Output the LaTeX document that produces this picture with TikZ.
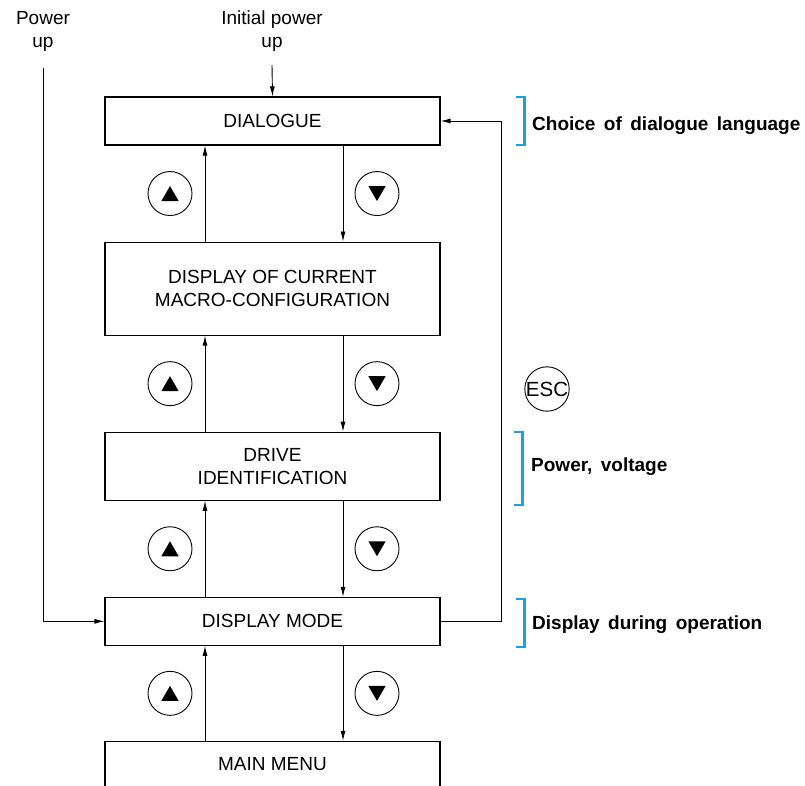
\documentclass[tikz,border=0pt]{standalone}
\usepackage{fontspec}
\setmainfont{Liberation Sans}
\newfontfamily\notefamily[WordSpace=1.6]{Liberation Sans}
\usetikzlibrary{arrows.meta,positioning,shapes.geometric,calc}
\definecolor{noteBlue}{RGB}{27,161,226}

\begin{document}
\begin{tikzpicture}[
  x=1pt, y=-1pt,
  node distance=96pt,
  menu/.style={draw, line width=1.1pt, minimum width=335pt, align=center, inner sep=0pt, font=\fontsize{19}{23}\selectfont},
  arrow/.style={-{Latex[length=10pt,width=5pt]}, line width=0.9pt},
  key/.style={draw, circle, minimum size=44pt, inner sep=0pt, line width=0.9pt, font=\fontsize{20.5}{20.5}\selectfont},
  uptri/.style={regular polygon, regular polygon sides=3, fill=black, minimum size=20pt, inner sep=0pt},
  downtri/.style={uptri, shape border rotate=180},
  bracket/.style={noteBlue, line width=2.4pt},
  note/.style={anchor=base west, inner sep=0pt, font=\notefamily\bfseries\fontsize{19}{23}\selectfont},
  start/.style={align=center, inner sep=0pt, font=\fontsize{19}{23}\selectfont}
]
\useasboundingbox (0,0) rectangle (805,786);

% menu boxes
\node[menu, minimum height=48pt] (dialogue) at (272.5,121) {DIALOGUE};
\node[menu, minimum height=93pt, below=of dialogue] (macro) {DISPLAY OF CURRENT\\MACRO-CONFIGURATION};
\node[menu, minimum height=68pt, below=of macro] (drive) {DRIVE\\IDENTIFICATION};
\node[menu, minimum height=48pt, below=of drive] (display) {DISPLAY MODE};
\node[menu, minimum height=46pt, below=95pt of display] (mainmenu) {MAIN MENU};

% columns of the up / down links and keys
\coordinate (upx) at (205,0);
\coordinate (downx) at (343,0);
\coordinate (upkeyx) at (170,0);
\coordinate (downkeyx) at (377,0);

\foreach \hi/\lo in {dialogue/macro, macro/drive, drive/display, display/mainmenu} {
  \draw[arrow] (\lo.north -| upx) -- (\hi.south -| upx);
  \draw[arrow] (\hi.south -| downx) -- (\lo.north -| downx);
  \node[key] (up-\lo) at ($(\hi.south -| upkeyx)!0.5!(\lo.north -| upkeyx)$) {};
  \node[uptri] at ($(up-\lo)+(0,2.5)$) {};
  \node[key] (down-\lo) at ($(\hi.south -| downkeyx)!0.5!(\lo.north -| downkeyx)$) {};
  \node[downtri] at ($(down-\lo)+(0,-2.5)$) {};
}

% power up entries
\node[start] (powerup) at (43,31) {Power\\up};
\node[start] (initial) at (272,31) {Initial power\\up};
\coordinate (powerin) at (43,68);
\coordinate (initin) at (272,65);
\draw[arrow] (powerin) |- (display.west);
\draw[arrow] (initin) -- (dialogue.north);

% ESC loop back to dialogue
\coordinate (escx) at (501,0);
\draw[arrow] (display.east) -- (display.east -| escx) -- (dialogue.east -| escx) -- (dialogue.east);
\node[key] (esc) at (547,389) {ESC};

% notes
\draw[bracket] (516,97) -- (524.5,97) -- (524.5,145) -- (516,145);
\node[note] (choice) at (532,131) {Choice of dialogue language};
\draw[bracket] (514,432) -- (522.5,432) -- (522.5,505) -- (514,505);
\node[note] (voltage) at (531,471) {Power, voltage};
\draw[bracket] (516,599) -- (524.5,599) -- (524.5,647) -- (516,647);
\node[note] (operation) at (532,629) {Display during operation};
\end{tikzpicture}
\end{document}
